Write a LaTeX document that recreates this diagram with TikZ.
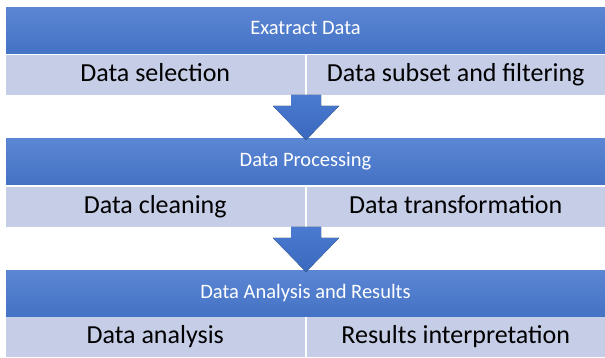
\documentclass[tikz,border=0pt]{standalone}
\usepackage{fontspec}
\setmainfont{Carlito}
\usetikzlibrary{calc}
\begin{document}
\begin{tikzpicture}[x=1pt,y=-1pt,
  hdr/.style={rectangle, inner sep=0pt, minimum width=599pt, minimum height=46pt,
    text height=14pt, text depth=5pt,
    top color=hdrtop, bottom color=hdrbot, text=white, font=\fontsize{20.5}{24}\selectfont},
  cell/.style={rectangle, inner sep=0pt, minimum width=298.5pt, minimum height=40pt,
    text height=20pt, text depth=6.8pt,
    fill=cellfill, text=black, font=\fontsize{26}{30}\selectfont},
  blockarrow/.style={top color=arrtop, bottom color=arrbot, draw=none}
]
\definecolor{hdrtop}{HTML}{5B86D4}
\definecolor{hdrbot}{HTML}{4472C4}
\definecolor{cellfill}{HTML}{C6CDE7}
\definecolor{arrtop}{HTML}{4A7BD0}
\definecolor{arrbot}{HTML}{3A68BE}
\useasboundingbox (0,0) rectangle (605,358);
\fill[white] (0,0) rectangle (605,358);

% block 1
\node[hdr] (h1) at (305.5,30.5) {Exatract Data};
\node[cell] (c1a) at (155.25,75) {Data selection};
\node[cell] (c1b) at (455.75,75) {Data subset and filtering};

% block 2
\node[hdr] (h2) at (305.5,162) {Data Processing};
\node[cell] (c2a) at (155.25,207) {Data cleaning};
\node[cell] (c2b) at (455.75,207) {Data transformation};

% block 3
\node[hdr] (h3) at (305.5,293.5) {Data Analysis and Results};
\node[cell] (c3a) at (155.25,337) {Data analysis};
\node[cell] (c3b) at (455.75,337) {Results interpretation};

% arrows
\coordinate (a1s) at (306,95);
\coordinate (a1t) at (306,140);
\fill[blockarrow] ($(a1s)+(-15,0)$) -- ($(a1s)+(15,0)$) -- ($(a1s)+(15,11)$)
  -- ($(a1s)+(33,11)$) -- (a1t) -- ($(a1s)+(-33,11)$)
  -- ($(a1s)+(-15,11)$) -- cycle;
\coordinate (a2s) at (306,227);
\coordinate (a2t) at (306,272);
\fill[blockarrow] ($(a2s)+(-15,0)$) -- ($(a2s)+(15,0)$) -- ($(a2s)+(15,11)$)
  -- ($(a2s)+(33,11)$) -- (a2t) -- ($(a2s)+(-33,11)$)
  -- ($(a2s)+(-15,11)$) -- cycle;
\end{tikzpicture}
\end{document}
